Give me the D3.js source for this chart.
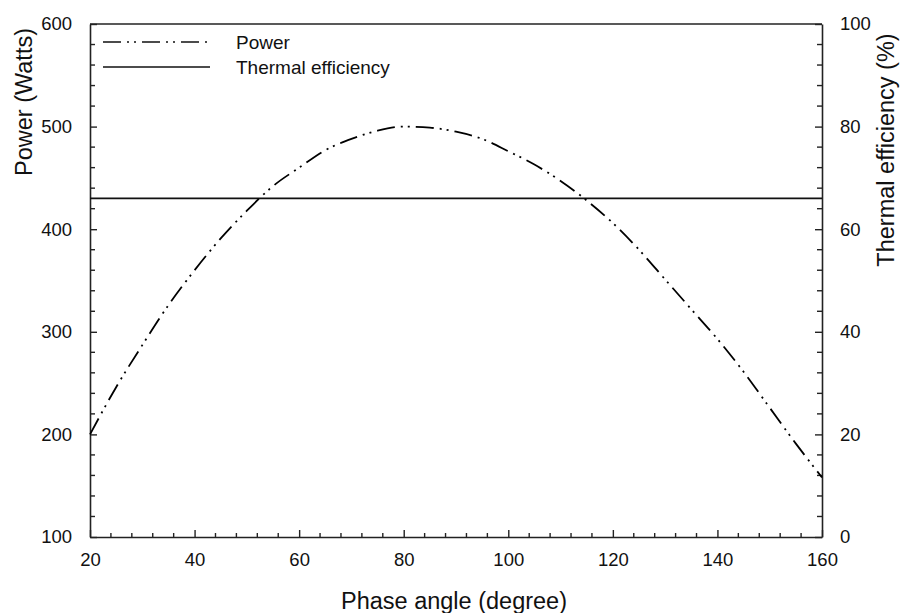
<!DOCTYPE html>
<html>
<head>
<meta charset="utf-8">
<script src="https://cdn.jsdelivr.net/npm/d3@7"></script>
<style>
  html, body { margin: 0; padding: 0; background: #fff; }
  svg { display: block; font-family: Arial, "Liberation Sans", sans-serif; }
</style>
</head>
<body>
<svg id="chart" width="900" height="613"></svg>
<script>
// Data
const phaseAngle = [20, 25, 30, 35, 40, 45, 50, 55, 60, 65, 70, 75, 80, 85, 90, 95, 100, 105, 110, 115, 120, 125, 130, 135, 140, 145, 150, 155, 160];
const powerWatts = [200, 246, 287, 326, 360, 391, 418, 442, 460, 477, 488, 496, 500, 499, 495, 488, 476, 463, 447, 428, 406, 380, 351, 322, 293, 261, 226, 191, 158];
const thermalEfficiency = [66, 66]; // constant across the range (%)
const thermalX = [20, 160];
const xTicks = [20, 40, 60, 80, 100, 120, 140, 160];
const yLeftTicks = [100, 200, 300, 400, 500, 600];
const yRightTicks = [0, 20, 40, 60, 80, 100];
const legendLabels = ["Power", "Thermal efficiency"];

const svg = d3.select("#chart");
const L = 90, R = 822, T = 24, B = 537;

const x = d3.scaleLinear().domain([20, 160]).range([L, R]);
const yL = d3.scaleLinear().domain([100, 600]).range([B, T]);
const yR = d3.scaleLinear().domain([0, 100]).range([B, T]);

const axisColor = "#222";
const tickFont = 18.5;

// Frame top line
svg.append("line").attr("x1", L).attr("x2", R).attr("y1", T).attr("y2", T)
  .attr("stroke", axisColor).attr("stroke-width", 1.6);

// Bottom axis (ticks inward)
const minorX = d3.range(20, 160.01, 4).filter(v => !xTicks.includes(v));
const gx = svg.append("g").attr("transform", `translate(0,${B})`);
gx.call(d3.axisBottom(x).tickValues(xTicks).tickSize(-7).tickSizeOuter(0).tickPadding(16).tickFormat(d3.format("d")));
gx.append("g").selectAll("line").data(minorX).join("line")
  .attr("x1", d => x(d)).attr("x2", d => x(d)).attr("y1", 0).attr("y2", -4)
  .attr("stroke", axisColor).attr("stroke-width", 1.4);

// Left axis
const minorY = d3.range(100, 600.01, 20).filter(v => !yLeftTicks.includes(v));
const gyl = svg.append("g").attr("transform", `translate(${L},0)`);
gyl.call(d3.axisLeft(yL).tickValues(yLeftTicks).tickSize(-7).tickSizeOuter(0).tickPadding(18).tickFormat(d3.format("d")));
gyl.append("g").selectAll("line").data(minorY).join("line")
  .attr("x1", 0).attr("x2", 5).attr("y1", d => yL(d)).attr("y2", d => yL(d))
  .attr("stroke", axisColor).attr("stroke-width", 1.4);

// Right axis
const minorYR = d3.range(0, 100.01, 4).filter(v => !yRightTicks.includes(v));
const gyr = svg.append("g").attr("transform", `translate(${R},0)`);
gyr.call(d3.axisRight(yR).tickValues(yRightTicks).tickSize(-7).tickSizeOuter(0).tickPadding(18).tickFormat(d3.format("d")));
gyr.append("g").selectAll("line").data(minorYR).join("line")
  .attr("x1", 0).attr("x2", -5).attr("y1", d => yR(d)).attr("y2", d => yR(d))
  .attr("stroke", axisColor).attr("stroke-width", 1.4);

[gx, gyl, gyr].forEach(g => {
  g.selectAll(".domain").attr("stroke", axisColor).attr("stroke-width", 1.6);
  g.selectAll(".tick line").attr("stroke", axisColor).attr("stroke-width", 1.4);
  g.selectAll(".tick text").attr("fill", "#111").style("font-size", tickFont + "px")
    .style("font-family", "Arial, 'Liberation Sans', sans-serif");
});

// Thermal efficiency line
const effData = thermalX.map((v, i) => ({ x: v, y: thermalEfficiency[i] }));
svg.append("path").datum(effData)
  .attr("d", d3.line().x(d => x(d.x)).y(d => yR(d.y)))
  .attr("fill", "none").attr("stroke", "#111").attr("stroke-width", 1.8);

// Power curve
const powData = phaseAngle.map((v, i) => ({ x: v, y: powerWatts[i] }));
svg.append("path").datum(powData)
  .attr("d", d3.line().curve(d3.curveMonotoneX).x(d => x(d.x)).y(d => yL(d.y)))
  .attr("fill", "none").attr("stroke", "#000").attr("stroke-width", 1.8)
  .attr("stroke-dasharray", "18,6,2,5,2,6");

// Legend
const legend = svg.append("g");
const legY = [42, 67];
const dashes = ["18,6,2,5,2,6", null];
legendLabels.forEach((lab, i) => {
  const ln = legend.append("line").attr("x1", 103).attr("x2", 210)
    .attr("y1", legY[i]).attr("y2", legY[i])
    .attr("stroke", "#111").attr("stroke-width", 1.7);
  if (dashes[i]) ln.attr("stroke-dasharray", dashes[i]);
  legend.append("text").attr("x", 236).attr("y", legY[i] + 6.5)
    .style("font-size", "19px").attr("fill", "#111").text(lab);
});

// Axis titles
svg.append("text").attr("x", (L + R) / 2 - 2).attr("y", 609)
  .attr("text-anchor", "middle").style("font-size", "23.5px").attr("fill", "#111")
  .text("Phase angle (degree)");

svg.append("text").attr("transform", "translate(32,102) rotate(-90)")
  .attr("text-anchor", "middle").style("font-size", "23.5px").attr("fill", "#111")
  .text("Power (Watts)");

svg.append("text").attr("transform", "translate(894,150) rotate(-90)")
  .attr("text-anchor", "middle").style("font-size", "23.5px").attr("fill", "#111")
  .text("Thermal efficiency (%)");
</script>
</body>
</html>
